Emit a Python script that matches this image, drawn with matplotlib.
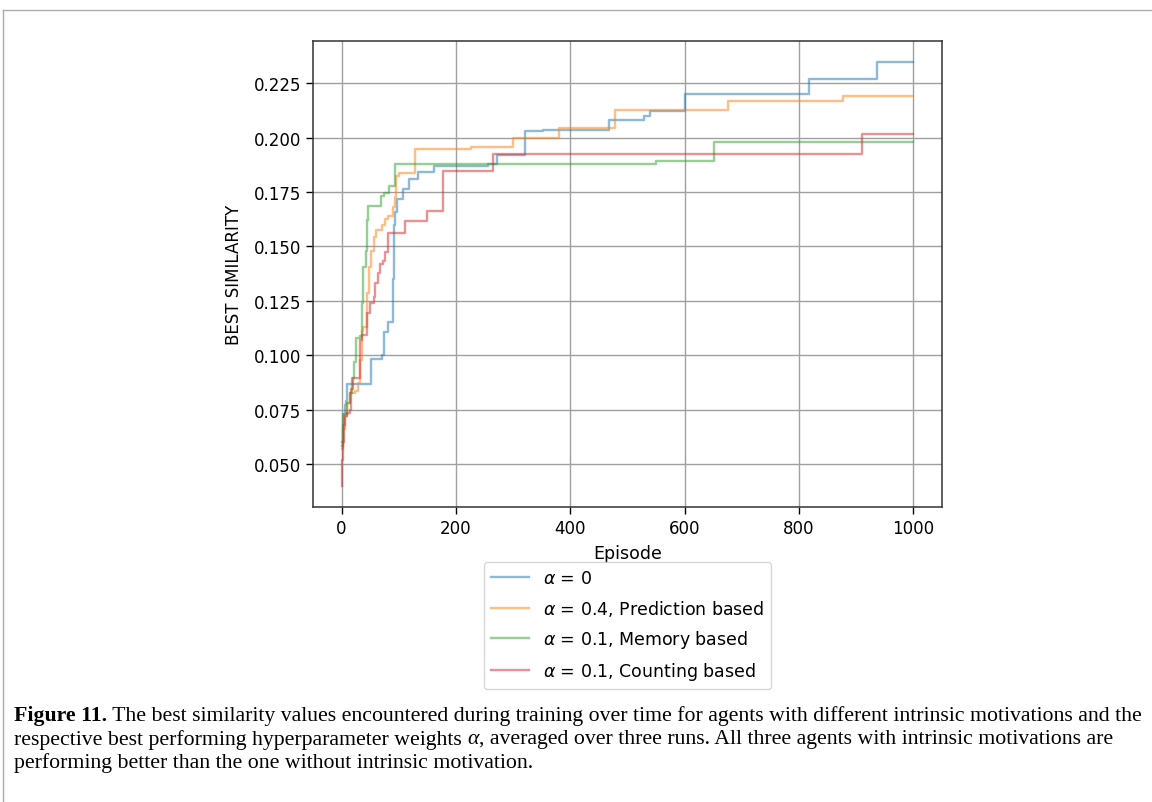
import numpy as np
import matplotlib
matplotlib.use('Agg')
import matplotlib.pyplot as plt
from matplotlib.lines import Line2D

# step data (episode, best similarity)
ep_a0 = [0, 2, 4, 6, 8, 10, 51, 70, 75, 82, 90, 91, 92, 94, 97, 100, 108, 118, 134, 162,
         256, 272, 320, 352, 467, 529, 540, 601, 818, 936, 1000]
val_a0 = [0.060, 0.068, 0.073, 0.077, 0.079, 0.0866, 0.0985, 0.100, 0.1105, 0.1155, 0.135,
          0.150, 0.160, 0.166, 0.172, 0.172, 0.1764, 0.181, 0.184, 0.1868,
          0.188, 0.1921, 0.2031, 0.2037, 0.208, 0.2101, 0.2122, 0.2203, 0.2271, 0.2347, 0.2347]

ep_pred = [0, 3, 6, 10, 15, 23, 29, 32, 35, 38, 44, 48, 52, 56, 60, 70, 76, 82, 90, 93, 96,
           101, 128, 227, 300, 380, 478, 676, 876, 1000]
val_pred = [0.057, 0.066, 0.072, 0.078, 0.0828, 0.0836, 0.0874, 0.0976, 0.1113, 0.113, 0.1285,
            0.1406, 0.148, 0.1543, 0.1574, 0.160, 0.1625, 0.1642, 0.168, 0.1726, 0.1825,
            0.1838, 0.195, 0.1955, 0.1997, 0.2043, 0.2128, 0.2168, 0.219, 0.219]

ep_mem = [0, 3, 9, 15, 18, 22, 26, 32, 35, 38, 42, 44, 47, 69, 75, 83, 93, 549, 651, 1000]
val_mem = [0.0584, 0.073, 0.0779, 0.0828, 0.0896, 0.097, 0.1079, 0.109, 0.1239, 0.1406, 0.148,
           0.162, 0.1685, 0.173, 0.1746, 0.1776, 0.1881, 0.1894, 0.1982, 0.1982]

ep_cnt = [0, 1, 2, 4, 6, 9, 15, 16, 20, 32, 35, 44, 50, 56, 58, 64, 67, 73, 76, 82, 111, 149,
          178, 265, 910, 1000]
val_cnt = [0.040, 0.052, 0.060, 0.068, 0.0721, 0.0736, 0.075, 0.0843, 0.0896, 0.1071, 0.1094,
           0.1193, 0.1239, 0.1269, 0.133, 0.1376, 0.142, 0.1435, 0.1475, 0.1563, 0.1617, 0.1665,
           0.1848, 0.1924, 0.2016, 0.2016]

labels = [r'$\alpha$ = 0', r'$\alpha$ = 0.4, Prediction based',
          r'$\alpha$ = 0.1, Memory based', r'$\alpha$ = 0.1, Counting based']

fig = plt.figure(figsize=(11.52, 8.03), dpi=100)
ax = fig.add_axes([313/1152, 1-508/803, (942-313)/1152, (508-42)/803])

series = [(ep_a0, val_a0), (ep_pred, val_pred), (ep_mem, val_mem), (ep_cnt, val_cnt)]
for (x, y), lab in zip(series, labels):
    ax.plot(x, y, drawstyle='steps-post', alpha=0.5, lw=1.7, label=lab)

ax.set_yticks(np.arange(0.05, 0.226, 0.025))
ax.set_xticks([0, 200, 400, 600, 800, 1000])
ax.tick_params(labelsize=12, length=5, width=1)
ax.grid(True, color='#a0a0a0', lw=1)
ax.set_xlabel('Episode', fontsize=12.5, labelpad=5)
ax.set_ylabel('BEST SIMILARITY', fontsize=12, labelpad=8)
for s in ax.spines.values():
    s.set_color('#333333')
    s.set_linewidth(1.1)
ax.legend(loc='upper center', bbox_to_anchor=(0.5, -0.1), fontsize=12.5,
          handlelength=2.2, labelspacing=0.6)

# page frame
fig.add_artist(Line2D([3/1152, 1], [1-11/803, 1-11/803], color='#aaaaaa', lw=1))
fig.add_artist(Line2D([3/1152, 3/1152], [0, 1-11/803], color='#aaaaaa', lw=1))

# caption
renderer = fig.canvas.get_renderer()
cap_fs = 15.65
serif = 'Liberation Serif'


def line_of(pieces, x, ypix):
    for s, kw in pieces:
        t = fig.text(x, 1-ypix/803, s, fontsize=cap_fs, family=serif, va='center', **kw)
        x += t.get_window_extent(renderer).width / 1152


line_of([('Figure 11.', dict(weight='bold')),
         (' The best similarity values encountered during training over time for agents with '
          'different intrinsic motivations and the', {})], 14/1152, 716)
line_of([('respective best performing hyperparameter weights ', {}),
         ('α', dict(style='italic')),
         (', averaged over three runs. All three agents with intrinsic motivations are', {})],
        14/1152, 740)
line_of([('performing better than the one without intrinsic motivation.', {})], 14/1152, 763)

fig.savefig('out.png', dpi=100)
